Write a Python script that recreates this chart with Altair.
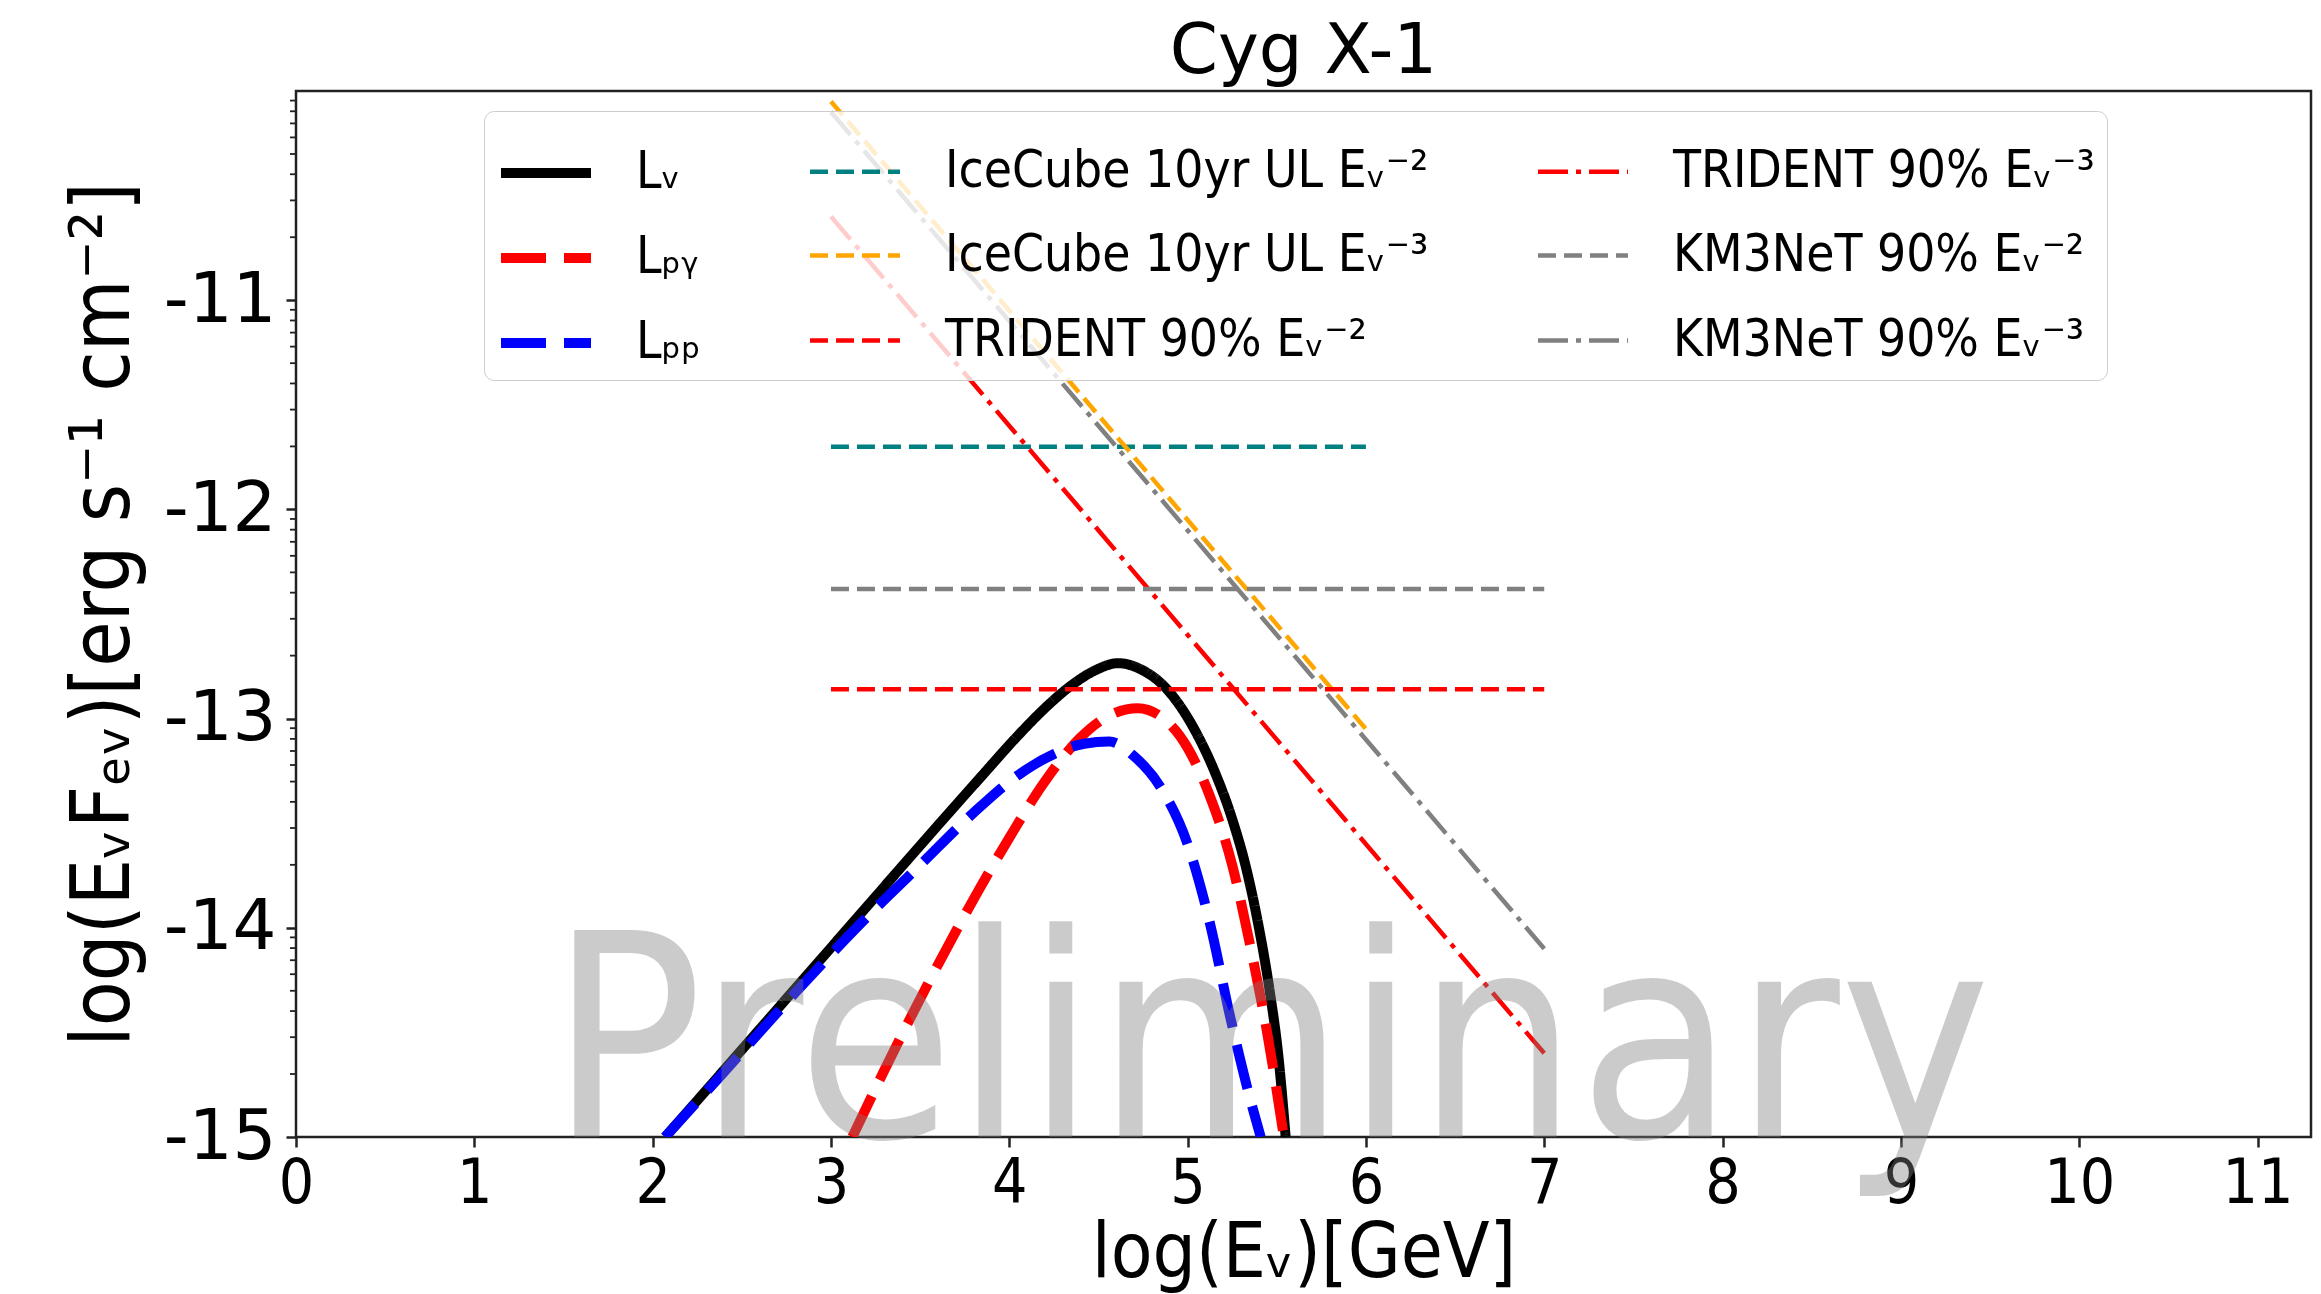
import math
import altair as alt
import pandas as pd

# ---------------- data ----------------
L_nu_x = [2.07, 2.4, 2.8, 3.2, 3.6, 3.85, 4.05, 4.2, 4.35, 4.48, 4.61, 4.75, 4.85, 4.95, 5.05, 5.15, 5.25, 5.33, 5.4, 5.46, 5.51, 5.55]
L_nu_y = [-15.0, -14.68, -14.29, -13.9, -13.51, -13.27, -13.08, -12.95, -12.84, -12.77, -12.735, -12.77, -12.83, -12.93, -13.07, -13.25, -13.48, -13.72, -14.0, -14.3, -14.62, -15.0]

L_pg_x = [3.12, 3.3, 3.5, 3.75, 4.0, 4.2, 4.4, 4.55, 4.72, 4.85, 5.0, 5.12, 5.25, 5.35, 5.45, 5.54]
L_pg_y = [-15.0, -14.68, -14.34, -13.94, -13.57, -13.3, -13.09, -12.99, -12.95, -12.99, -13.14, -13.36, -13.7, -14.08, -14.52, -15.0]

L_pp_x = [2.07, 2.4, 2.8, 3.2, 3.5, 3.8, 4.05, 4.25, 4.42, 4.56, 4.7, 4.85, 5.0, 5.12, 5.24, 5.33, 5.41]
L_pp_y = [-15.0, -14.69, -14.31, -13.95, -13.7, -13.45, -13.27, -13.17, -13.12, -13.11, -13.18, -13.33, -13.6, -13.96, -14.43, -14.75, -15.0]

ic2_x, ic2_y = [3, 6], [-11.70, -11.70]
ic3_x, ic3_y = [3, 6], [-10.05, -13.05]
tr2_x, tr2_y = [3, 7], [-12.86, -12.86]
tr3_x, tr3_y = [3, 7], [-10.60, -14.60]
km2_x, km2_y = [3, 7], [-12.38, -12.38]
km3_x, km3_y = [3, 7], [-10.10, -14.10]

N_LNU = "L\u1D65"
N_LPG = "L\u209A\u1D67"
N_LPP = "L\u209A\u209A"
N_IC2 = "IceCube 10yr UL E\u1D65\u207B\u00B2"
N_IC3 = "IceCube 10yr UL E\u1D65\u207B\u00B3"
N_TR2 = "TRIDENT 90% E\u1D65\u207B\u00B2"
N_TR3 = "TRIDENT 90% E\u1D65\u207B\u00B3"
N_KM2 = "KM3NeT 90% E\u1D65\u207B\u00B2"
N_KM3 = "KM3NeT 90% E\u1D65\u207B\u00B3"

x_ticks = list(range(0, 12))
y_ticks = [-15, -14, -13, -12, -11]
y_minor = [k + math.log10(n) for k in [-15, -14, -13, -12, -11] for n in range(2, 10)]

watermark_text = ["Preliminary"]
watermark_x = [1.42]
watermark_y = [-15.0]

# ---------------- styling ----------------
FONT_C = "DejaVu Sans Condensed, DejaVu Sans, sans-serif"
FONT_R = "DejaVu Sans, sans-serif"

DASH_THICK = [45, 18]
DASH_THIN = [18, 8]
DASHDOT_THIN = [30, 8, 5, 8]
SOLID = [1, 0]

style = {
    N_LNU: ("#000000", SOLID, 10),
    N_LPG: ("#ff0000", DASH_THICK, 10),
    N_LPP: ("#0000ff", DASH_THICK, 10),
    N_IC2: ("#008080", DASH_THIN, 4.5),
    N_IC3: ("#ffa500", DASH_THIN, 4.5),
    N_TR2: ("#ff0000", DASH_THIN, 4.5),
    N_TR3: ("#ff0000", DASHDOT_THIN, 4.5),
    N_KM2: ("#808080", DASH_THIN, 4.5),
    N_KM3: ("#808080", DASHDOT_THIN, 4.5),
}

# Vega fills the legend grid column by column here
legend_order = [N_LNU, N_LPG, N_LPP, N_IC2, N_IC3, N_TR2, N_TR3, N_KM2, N_KM3]
draw_order = [N_LNU, N_LPG, N_LPP, N_IC2, N_IC3, N_TR2, N_TR3, N_KM2, N_KM3]

series_data = {
    N_LNU: (L_nu_x, L_nu_y), N_LPG: (L_pg_x, L_pg_y), N_LPP: (L_pp_x, L_pp_y),
    N_IC2: (ic2_x, ic2_y), N_IC3: (ic3_x, ic3_y), N_TR2: (tr2_x, tr2_y),
    N_TR3: (tr3_x, tr3_y), N_KM2: (km2_x, km2_y), N_KM3: (km3_x, km3_y),
}

rows = []
for s in draw_order:
    xs, ys = series_data[s]
    for i, (xv, yv) in enumerate(zip(xs, ys)):
        rows.append({"series": s, "x": xv, "y": yv, "i": i})
df = pd.DataFrame(rows)

xscale = alt.Scale(domain=[0, 11.3], nice=False, zero=False)
yscale = alt.Scale(domain=[-15, -10], nice=False, zero=False)

xaxis = alt.Axis(values=x_ticks, title="log(E\u1D65)[GeV]", labelFont=FONT_C, labelFontSize=62,
                 labelExpr="'' + datum.value",
                 titleFont=FONT_C, titleFontSize=76, titleFontWeight="normal", titlePadding=2,
                 labelPadding=6, tickSize=10, tickWidth=2.5, tickColor="#222", domain=False,
                 grid=False, labelColor="black", titleColor="black", labelFlush=False)
yaxis = alt.Axis(values=y_ticks, title="log(E\u1D65F\u2091\u1D65)[erg s\u207B\u00B9 cm\u207B\u00B2]",
                 labelFont=FONT_R, labelFontSize=69, labelExpr="'' + datum.value",
                 titleFont=FONT_C, titleFontSize=82, titleFontWeight="normal", titlePadding=18,
                 labelPadding=10, tickSize=10, tickWidth=2.5, tickColor="#222", domain=False,
                 grid=False, labelColor="black", titleColor="black", labelFlush=False)

leg = alt.Legend(orient="none", legendX=188, legendY=20, columns=3, title=None,
                 symbolType="stroke", symbolSize=8100, labelFont=FONT_C, labelFontSize=51,
                 labelColor="black", labelLimit=1000, labelOffset=40, columnPadding=100,
                 rowPadding=10, padding=12, fillColor="rgba(255,255,255,0.8)",
                 strokeColor="#cccccc", cornerRadius=10, zindex=1, symbolOpacity=1)

colors = [style[s][0] for s in legend_order]
dashes = [style[s][1] for s in legend_order]
widths = [style[s][2] for s in legend_order]

layers = []
for s in draw_order:
    layers.append(
        alt.Chart(df)
        .transform_filter(alt.datum.series == s)
        .mark_line(clip=True, interpolate="monotone")
        .encode(
            x=alt.X("x:Q", scale=xscale, axis=xaxis),
            y=alt.Y("y:Q", scale=yscale, axis=yaxis),
            order="i:Q",
            color=alt.Color("series:N", scale=alt.Scale(domain=legend_order, range=colors), legend=leg),
            strokeDash=alt.StrokeDash("series:N", scale=alt.Scale(domain=legend_order, range=dashes), legend=leg),
            strokeWidth=alt.StrokeWidth("series:N", scale=alt.Scale(type="ordinal", domain=legend_order, range=widths), legend=leg),
        )
    )

minor = alt.Chart(pd.DataFrame({"v": y_minor})).mark_rule(color="#222", strokeWidth=1.8).encode(
    y=alt.Y("v:Q", scale=yscale), x=alt.value(-6), x2=alt.value(0)
)

wm = alt.Chart(pd.DataFrame({"t": watermark_text, "x": watermark_x, "y": watermark_y})).mark_text(
    font=FONT_C, fontSize=284, color="#808080", opacity=0.4, align="left", baseline="alphabetic"
).encode(x=alt.X("x:Q", scale=xscale), y=alt.Y("y:Q", scale=yscale), text="t:N")

chart = (
    alt.layer(*layers, minor, wm)
    .properties(
        width=2015, height=1046,
        title=alt.TitleParams("Cyg X-1", font=FONT_R, fontSize=69, fontWeight="normal",
                              color="black", offset=4, anchor="middle"),
        padding={"left": 296, "top": 91, "right": 10, "bottom": 157},
        autosize=alt.AutoSizeParams(type="none"),
        background="white",
    )
    .configure_view(stroke="#222", strokeWidth=2.5)
)

chart.save("out.html", embed_options={"renderer": "svg", "actions": False})
